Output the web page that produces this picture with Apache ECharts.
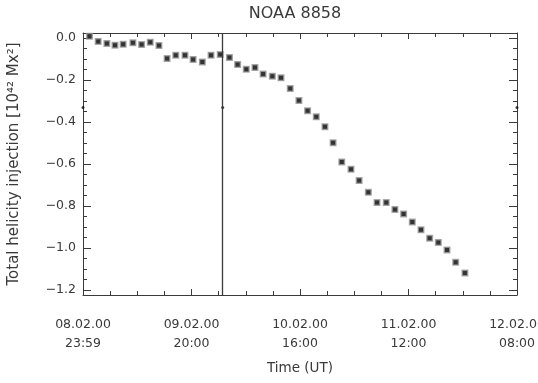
<!DOCTYPE html>
<html>
<head>
<meta charset="utf-8">
<script src="https://cdn.jsdelivr.net/npm/echarts@6/dist/echarts.min.js"></script>
<style>
  html, body { margin: 0; padding: 0; background: #fff; }
  #chart { width: 538px; height: 383px; }
</style>
</head>
<body>
<div id="chart"></div>
<script>
// Hours elapsed since 08.02.00 23:59 UT
const hours = [1.2, 2.8, 4.4, 5.9, 7.4, 9.2, 10.8, 12.4, 14.0, 15.5,
  17.1, 18.8, 20.3, 22.0, 23.6, 25.3, 27.0, 28.5, 30.1, 31.7,
  33.2, 34.9, 36.5, 38.2, 39.8, 41.4, 43.0, 44.6, 46.1, 47.7,
  49.4, 50.9, 52.6, 54.2, 55.9, 57.5, 59.1, 60.7, 62.3, 63.9,
  65.5, 67.1, 68.7, 70.4];
// Accumulated helicity injection, 10^42 Mx^2
const helicity = [0.01, -0.015, -0.025, -0.033, -0.029, -0.022, -0.030, -0.019, -0.035, -0.097,
  -0.081, -0.081, -0.101, -0.113, -0.081, -0.078, -0.092, -0.125, -0.148, -0.140,
  -0.171, -0.181, -0.189, -0.240, -0.297, -0.346, -0.375, -0.422, -0.499, -0.590,
  -0.625, -0.679, -0.735, -0.784, -0.784, -0.817, -0.838, -0.877, -0.914, -0.954,
  -0.974, -1.010, -1.069, -1.120];
// Time axis tick labels, one every 20 hours
const timeTicks = ['08.02.00\n23:59', '09.02.00\n20:00', '10.02.00\n16:00', '11.02.00\n12:00', '12.02.00\n08:00'];
// Event time (vertical marker) and the small dots drawn along it
const eventHour = 25.75;
const dotHours = [0, 25.75, 80];
const dotLevel = [-0.33, -0.33, -0.33];

const FONT = 'DejaVu Sans';
const INK = '#3a3a3a';

const chart = echarts.init(document.getElementById('chart'), null, { renderer: 'canvas' });

const axisLineStyle = { show: true, onZero: false, lineStyle: { color: INK, width: 1 } };

chart.setOption({
  animation: false,
  backgroundColor: '#fff',
  title: {
    text: 'NOAA 8858',
    left: 290, top: 1, textAlign: 'center',
    textStyle: { fontFamily: FONT, fontSize: 16, fontWeight: 'normal', color: INK }
  },
  grid: { left: 83, right: 21, top: 33, bottom: 88, containLabel: false, outerBoundsMode: 'none' },
  xAxis: [{
    type: 'value', min: 0, max: 80, interval: 20,
    name: 'Time (UT)', nameLocation: 'middle', nameGap: 66,
    nameTextStyle: { fontFamily: FONT, fontSize: 13.5, color: INK },
    axisLine: axisLineStyle,
    axisTick: { inside: true, length: 6, lineStyle: { color: INK } },
    minorTick: { show: true, splitNumber: 4, length: 4, lineStyle: { color: INK } },
    splitLine: { show: false },
    axisLabel: {
      margin: 20, fontFamily: FONT, fontSize: 12.5, color: INK, lineHeight: 19,
      formatter: v => timeTicks[Math.round(v / 20)] || ''
    }
  }, {
    type: 'value', min: 0, max: 80, interval: 20, position: 'top',
    axisLine: axisLineStyle,
    axisTick: { inside: true, length: 6, lineStyle: { color: INK } },
    minorTick: { show: true, splitNumber: 4, length: 4, lineStyle: { color: INK } },
    splitLine: { show: false },
    axisLabel: { show: false }
  }],
  yAxis: [{
    type: 'value', min: -1.225, max: 0.025, splitNumber: 6,
    name: 'Total helicity injection [10⁴² Mx²]', nameLocation: 'middle', nameGap: 61,
    nameTextStyle: { fontFamily: FONT, fontSize: 15, color: INK },
    axisLine: axisLineStyle,
    axisTick: { inside: true, length: 8, lineStyle: { color: INK } },
    minorTick: { show: true, splitNumber: 4, length: 4, lineStyle: { color: INK } },
    splitLine: { show: false },
    showMinLabel: false, showMaxLabel: false,
    axisLabel: {
      margin: 7, fontFamily: FONT, fontSize: 12.5, color: INK,
      formatter: v => {
        const k = Math.round(v / 0.2);
        if (Math.abs(v - k * 0.2) > 1e-6) return '';
        return (k * 0.2).toFixed(1).replace('-', '\u2212');
      }
    }
  }, {
    type: 'value', min: -1.225, max: 0.025, splitNumber: 6, position: 'right',
    axisLine: axisLineStyle,
    axisTick: { inside: true, length: 8, lineStyle: { color: INK } },
    minorTick: { show: true, splitNumber: 4, length: 4, lineStyle: { color: INK } },
    splitLine: { show: false },
    axisLabel: { show: false }
  }],
  series: [{
    type: 'scatter',
    data: hours.map((h, i) => [h, helicity[i]]),
    symbol: 'rect', symbolSize: 5.5,
    itemStyle: { color: '#000', borderColor: '#9a9a9a', borderWidth: 1.5 },
    markLine: {
      silent: true, symbol: 'none', label: { show: false },
      lineStyle: { color: INK, width: 1.3, type: 'solid' },
      data: [{ xAxis: eventHour }]
    },
    z: 3
  }, {
    type: 'scatter',
    data: dotHours.map((h, i) => [h, dotLevel[i]]),
    symbol: 'circle', symbolSize: 3,
    itemStyle: { color: '#111' },
    z: 4
  }]
});
</script>
</body>
</html>
